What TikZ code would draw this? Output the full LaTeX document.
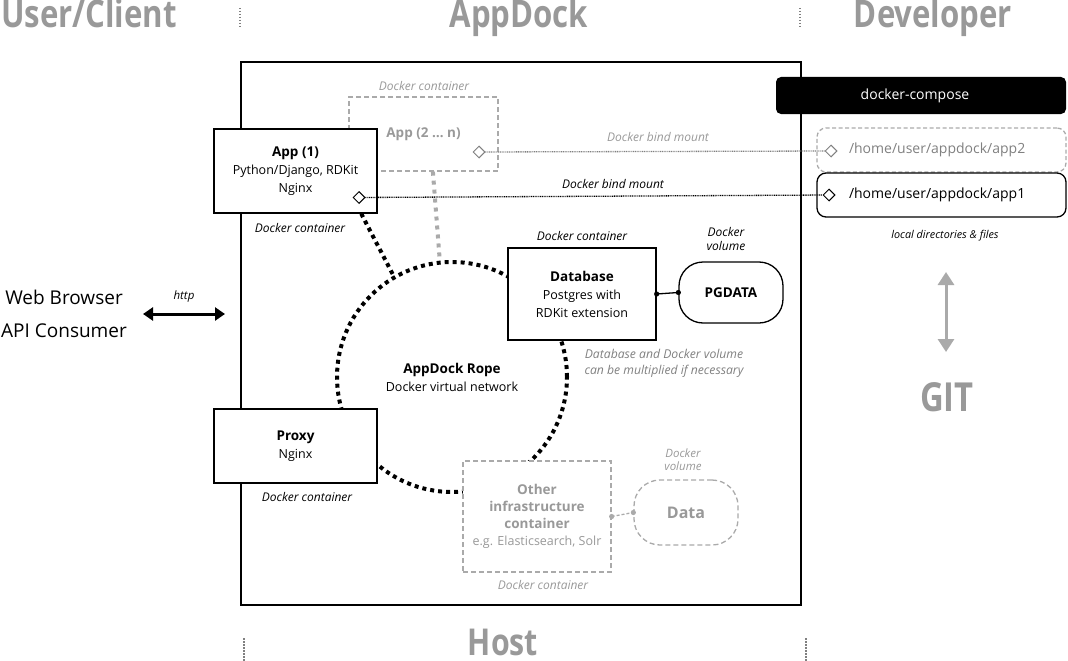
\documentclass[tikz,border=0pt]{standalone}
\usepackage{fontspec}
\setmainfont{Open Sans}
\newfontfamily\headfont[FakeStretch=0.82]{Open Sans}
\usetikzlibrary{arrows.meta,shapes.geometric}
\definecolor{tgray}{HTML}{999999}
\definecolor{lgray}{HTML}{AAAAAA}
\definecolor{mgray}{HTML}{808080}
\newcommand\fs[2]{\fontsize{#1}{#2}\selectfont}
\newcommand\ttl[1]{{\bfseries\fs{13.5}{18}#1}}
\begin{document}
\begin{tikzpicture}[x=1pt,y=-1pt,
  head/.style={font=\headfont\bfseries\fs{38}{40}, text=tgray, inner sep=0, anchor=base},
  box/.style={draw, line width=1.3pt, fill=white, align=center, inner sep=0, font=\fs{12.5}{18}},
  gbox/.style={box, draw=lgray, dash pattern=on 5pt off 3pt, text=tgray},
  lbl/.style={font=\itshape\fs{12}{14}, inner sep=0, align=center},
  dmd/.style={draw, diamond, fill=white, inner sep=0, minimum size=12pt, line width=1pt},
  bind/.style={line width=1.3pt, dash pattern=on 1pt off 0.8pt},
  ropeline/.style={line width=4pt, dash pattern=on 4pt off 4pt},
  sepline/.style={mgray, line width=1.5pt, dash pattern=on 1.5pt off 1.5pt},
  dirbox/.style={draw, line width=1.3pt, rounded corners=9pt, minimum width=249, minimum height=44,
     text width=185, align=left, inner xsep=32pt, inner ysep=0, font=\fs{14}{16}}
]
\useasboundingbox (0,0) rectangle (1068,661);

% headers
\node[head] (hUser) at (89,28) {User/Client};
\node[head] (hApp) at (519,28) {AppDock};
\node[head] (hDev) at (933,28) {Developer};
\node[head, font=\headfont\bfseries\fs{37}{40}] (hHost) at (503,655) {Host};
\draw[sepline] (240,8) -- (240,27);
\draw[sepline] (800,8) -- (800,27);
\draw[sepline] (244,638) -- (244,661);
\draw[sepline] (806,638) -- (806,661);

% host
\node[draw, line width=2.5pt, minimum width=560, minimum height=543, inner sep=0] (host) at (521,333.5) {};

% rope
\node[circle, draw, ropeline, minimum size=230, inner sep=0, align=center, font=\fs{12.5}{18}] (rope) at (452,377)
  {\ttl{AppDock Rope}\\Docker virtual network};

% app boxes
\node[gbox, minimum width=149, minimum height=74] (app2) at (423.5,134) {\ttl{App (2 … n)}};
\node[box, minimum width=163, minimum height=84] (app1) at (295.5,171) {\ttl{App (1)}\\Python/Django, RDKit\\Nginx};
\draw[ropeline] (app1.-33) -- (rope.120);
\draw[ropeline, lgray, dash pattern=on 4pt off 5pt] (app2.-76) -- (rope.96);

% database
\node[box, minimum width=148, minimum height=92] (db) at (582,294) {\ttl{Database}\\Postgres with\\RDKit extension};
\node[box, rounded corners=24pt, minimum width=104, minimum height=61, font=\bfseries\fs{13.5}{16}] (pg) at (731,292.5) {PGDATA};
\draw[line width=1.3pt] (db.east) -- (pg.west);
\fill (db.east) circle (2.6);
\fill (pg.west) circle (2.6);

% proxy
\node[box, minimum width=163, minimum height=74] (proxy) at (295.5,446) {\ttl{Proxy}\\Nginx};

% other
\node[gbox, minimum width=148, minimum height=111, font=\fs{12.5}{17}] (other) at (537,516.5)
  {\ttl{Other}\\\ttl{infrastructure}\\\ttl{container}\\e.g. Elasticsearch, Solr};
\node[gbox, rounded corners=26pt, minimum width=104, minimum height=65, font=\bfseries\fs{16}{18}] (data) at (686,512.5) {Data};
\draw[lgray, line width=1.3pt, dash pattern=on 3pt off 2pt] (other.east) -- (data.west);
\fill[lgray] (other.east) circle (2.6);
\fill[lgray] (data.west) circle (2.6);

% labels
\node[lbl, text=tgray] (lApp2) at (424,86) {Docker container};
\node[lbl] (lApp1) at (300,228) {Docker container};
\node[lbl] (lDb) at (582,236) {Docker container};
\node[lbl] (lPg) at (726,239) {Docker\\volume};
\node[lbl, text=mgray, font=\itshape\fs{12.2}{16}] (lMult) at (664,363) {Database and Docker volume\\can be multiplied if necessary};
\node[lbl] (lProxy) at (307,497) {Docker container};
\node[lbl, text=tgray] (lOther) at (543,585) {Docker container};
\node[lbl, text=tgray, font=\itshape\fs{11.5}{13}] (lData) at (683,459.5) {Docker\\volume};

% developer side
\node[fill=black, rounded corners=5pt, minimum width=290, minimum height=37, text=white, font=\fs{14}{16}, inner sep=0] (compose) at (921,95.5) {docker-compose\hspace*{12pt}};
\node[dirbox, draw=lgray, dash pattern=on 4pt off 2.5pt, text=mgray] (dir2) at (941.5,150) {/home/user/appdock/app2};
\node[dirbox] (dir1) at (941.5,195) {/home/user/appdock/app1};
\node[lbl, font=\itshape\fs{10.8}{12}] (lLocal) at (945,236) {local directories \& files};

% bind mounts
\node[dmd, draw=mgray] (d2a) at (479,152) {};
\node[dmd, draw=mgray] (d2b) at (831,151) {};
\node[dmd] (d1a) at (359,197.5) {};
\node[dmd] (d1b) at (829,195) {};
\draw[bind, mgray] (d2a) -- (d2b);
\draw[bind] (d1a) -- (d1b);
\node[lbl, text=tgray] (lBind2) at (658,137) {Docker bind mount};
\node[lbl] (lBind1) at (613,184) {Docker bind mount};

% git
\coordinate (gA) at (946,272);
\coordinate (gB) at (946,352);
\draw[lgray, line width=3pt, {Triangle[width=16pt,length=13pt]}-{Triangle[width=16pt,length=13pt]}] (gA) -- (gB);
\node[head, font=\headfont\bfseries\fs{40}{42}] (git) at (947,411) {GIT};

% client
\node[align=center, font=\fs{19}{33}, inner sep=0] (client) at (64,313.5) {Web Browser\\API Consumer};
\coordinate (hA) at (143,314);
\coordinate (hB) at (225,314);
\draw[line width=3pt, {Triangle[width=13pt,length=10pt]}-{Triangle[width=13pt,length=10pt]}] (hA) -- (hB);
\node[lbl, font=\itshape\fs{11.5}{12}] (lHttp) at (184,297) {http};
\end{tikzpicture}
\end{document}
